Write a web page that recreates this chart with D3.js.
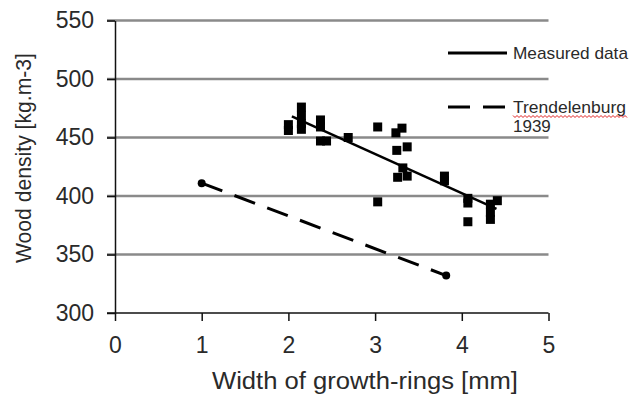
<!DOCTYPE html>
<html>
<head>
<meta charset="utf-8">
<script src="https://cdn.jsdelivr.net/npm/d3@7"></script>
<style>
  html, body { margin: 0; padding: 0; background: #fff; }
  svg { display: block; font-family: "Liberation Sans", Arial, sans-serif; }
</style>
</head>
<body>
<svg id="chart" width="631" height="395"></svg>
<script>
// ---- data ----
const xTicks = [0, 1, 2, 3, 4, 5];
const yTicks = [300, 350, 400, 450, 500, 550];
const measuredX = [2.00, 2.00, 2.15, 2.15, 2.15, 2.15, 2.37, 2.37, 2.37, 2.44, 2.69, 3.03, 3.03, 3.24, 3.31, 3.25, 3.37, 3.26, 3.32, 3.37, 3.80, 3.80, 4.07, 4.07, 4.07, 4.33, 4.33, 4.33, 4.41];
const measuredY = [461, 456, 476, 469, 462, 457, 465, 459, 447, 447, 450, 459, 395, 454, 458, 439, 442, 416, 424, 417, 417, 413, 398, 394, 378, 393, 386, 380, 396];
const fitX = [2.04, 4.40];
const fitY = [468, 389];
const trendX = [1.0, 3.82];
const trendY = [411, 332];
const legendLabels = ["Measured data", "Trendelenburg", "1939"];
const xTitle = "Width of growth-rings [mm]";
const yTitle = "Wood density [kg.m-3]";

// ---- chart ----
const svg = d3.select("#chart");
const x = d3.scaleLinear().domain([0, 5]).range([115, 548.5]);
const y = d3.scaleLinear().domain([300, 550]).range([313, 20.5]);
const textColor = "#2a2a2a";

// gridlines
svg.append("g").selectAll("line")
  .data(yTicks.filter(d => d > 300))
  .join("line")
  .attr("x1", x(0) - 8).attr("x2", x(5))
  .attr("y1", d => y(d)).attr("y2", d => y(d))
  .attr("stroke", "#8a8a8a").attr("stroke-width", 2.5);

// y axis
const yAxis = svg.append("g")
  .attr("transform", `translate(${x(0)},0)`)
  .call(d3.axisLeft(y).tickValues(yTicks).tickFormat(d3.format("d")).tickSize(8).tickPadding(13).tickSizeOuter(0));
yAxis.select(".domain").attr("stroke", "#111").attr("stroke-width", 1.5);
yAxis.selectAll(".tick line").attr("stroke", "#111").attr("stroke-width", 1.5);
yAxis.selectAll(".tick text")
  .attr("font-size", 23).attr("fill", textColor)
  .attr("font-family", "Liberation Sans, Arial, sans-serif");

// x axis
const xAxis = svg.append("g")
  .attr("transform", `translate(0,${y(300)})`)
  .call(d3.axisBottom(x).tickValues(xTicks).tickFormat(d3.format("d")).tickSize(8).tickPadding(16).tickSizeOuter(0));
xAxis.select(".domain").attr("stroke", "#111").attr("stroke-width", 1.5)
  .attr("d", `M${x(0) - 8},0H${x(5)}`);
xAxis.selectAll(".tick line").attr("stroke", "#111").attr("stroke-width", 1.5);
xAxis.selectAll(".tick text")
  .attr("font-size", 23).attr("fill", textColor)
  .attr("font-family", "Liberation Sans, Arial, sans-serif");

// axis titles
svg.append("text")
  .attr("x", 365).attr("y", 389)
  .attr("text-anchor", "middle")
  .attr("font-size", 23).attr("fill", textColor)
  .attr("textLength", 306).attr("lengthAdjust", "spacingAndGlyphs")
  .text(xTitle);
svg.append("text")
  .attr("transform", "translate(31,158) rotate(-90)")
  .attr("text-anchor", "middle")
  .attr("font-size", 22).attr("fill", textColor)
  .attr("textLength", 210).attr("lengthAdjust", "spacingAndGlyphs")
  .text(yTitle);

// Trendelenburg dashed line
const line = d3.line().x(d => x(d[0])).y(d => y(d[1]));
const trendPts = trendX.map((d, i) => [d, trendY[i]]);
svg.append("path")
  .attr("d", line(trendPts))
  .attr("fill", "none").attr("stroke", "#000")
  .attr("stroke-width", 3).attr("stroke-dasharray", "22,13");
svg.append("g").selectAll("circle")
  .data(trendPts).join("circle")
  .attr("cx", d => x(d[0])).attr("cy", d => y(d[1]))
  .attr("r", 4).attr("fill", "#000");

// measured data squares
const sq = 9;
svg.append("g").selectAll("rect")
  .data(measuredX.map((d, i) => [d, measuredY[i]]))
  .join("rect")
  .attr("x", d => x(d[0]) - sq / 2).attr("y", d => y(d[1]) - sq / 2)
  .attr("width", sq).attr("height", sq).attr("fill", "#000");

// regression line
svg.append("path")
  .attr("d", line(fitX.map((d, i) => [d, fitY[i]])))
  .attr("fill", "none").attr("stroke", "#000").attr("stroke-width", 2.5);

// legend
const lg = svg.append("g");
lg.append("line").attr("x1", 448).attr("x2", 507).attr("y1", 53).attr("y2", 53)
  .attr("stroke", "#000").attr("stroke-width", 3);
lg.append("line").attr("x1", 448).attr("x2", 507).attr("y1", 107).attr("y2", 107)
  .attr("stroke", "#000").attr("stroke-width", 3).attr("stroke-dasharray", "22,13");
lg.append("text").attr("x", 513).attr("y", 59).attr("font-size", 17).attr("fill", textColor)
  .attr("textLength", 115).attr("lengthAdjust", "spacingAndGlyphs")
  .text(legendLabels[0]);
lg.append("text").attr("x", 513).attr("y", 113).attr("font-size", 17).attr("fill", textColor)
  .attr("textLength", 113).attr("lengthAdjust", "spacingAndGlyphs")
  .text(legendLabels[1]);
lg.append("text").attr("x", 513).attr("y", 132).attr("font-size", 17).attr("fill", textColor)
  .text(legendLabels[2]);
// spell-check wavy underline
const wave = [];
for (let i = 0; i <= 57; i++) wave.push([513 + i * 2, i % 2 === 0 ? 115.5 : 117.5]);
lg.append("path")
  .attr("d", d3.line()(wave))
  .attr("fill", "none").attr("stroke", "#e02020").attr("stroke-width", 1);
</script>
</body>
</html>
